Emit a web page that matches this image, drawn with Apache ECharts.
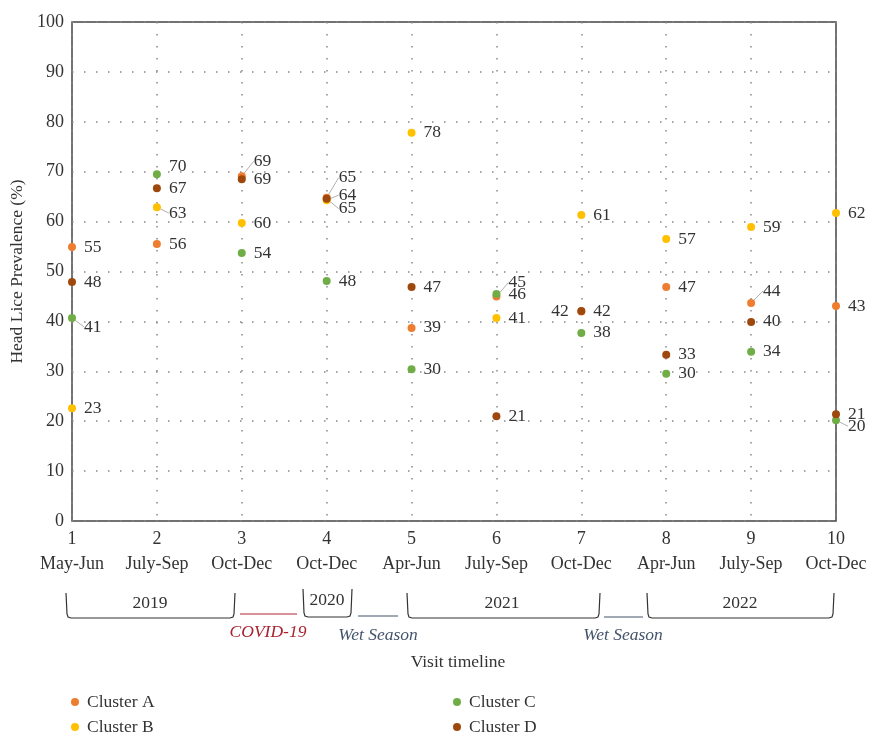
<!DOCTYPE html>
<html><head><meta charset="utf-8">
<script src="https://cdn.jsdelivr.net/npm/echarts@6/dist/echarts.min.js"></script>
<style>html,body{margin:0;padding:0;background:#fff}#c{width:871px;height:734px}</style>
</head><body><div id="c"></div>
<script>
const visits = [1,2,3,4,5,6,7,8,9,10];
const periods = ["May-Jun","July-Sep","Oct-Dec","Oct-Dec","Apr-Jun","July-Sep","Oct-Dec","Apr-Jun","July-Sep","Oct-Dec"];
const clusterA = [54.9, 55.5, 69.1, 64.8, 38.7, 45.0, 42.0, 46.9, 43.7, 43.1];
const clusterB = [22.6, 62.9, 59.7, 64.3, 77.8, 40.7, 61.3, 56.5, 58.9, 61.7];
const clusterC = [40.7, 69.5, 53.7, 48.1, 30.4, 45.5, 37.7, 29.5, 33.9, 20.2];
const clusterD = [47.9, 66.7, 68.5, 64.6, 46.9, 21.0, 42.1, 33.3, 39.9, 21.4];
const yTicks = [0,10,20,30,40,50,60,70,80,90,100];

const names = ["Cluster A","Cluster B","Cluster C","Cluster D"];
const colors = ["#ED7D31","#FFC000","#70AD47","#9E480E"];
const allData = [clusterA, clusterB, clusterC, clusterD];

// label nudges [dx, dy] by series / data index (layout only)
const nudge = {
  0: {2:[0,-15], 3:[0,-20], 5:[0,-14], 6:[-42,0], 8:[0,-12]},
  1: {1:[0,6], 3:[0,-5]},
  2: {0:[0,9], 1:[0,-8], 9:[0,6]},
  3: {3:[0,10]}
};
const leader = {0:[2,3,5,8], 1:[1,3], 2:[0,9], 3:[3]};

const FONT = "Liberation Serif";
const chart = echarts.init(document.getElementById('c'));
const guide = {color: '#b0b0b0', width: 1};

const series = allData.map((arr, si) => ({
  name: names[si],
  type: 'scatter',
  symbolSize: 8,
  itemStyle: {color: colors[si], opacity: 1},
  data: arr.map((v, i) => ({
    value: [visits[i], v],
    labelLine: {show: leader[si].includes(i), lineStyle: guide}
  })),
  label: {
    show: true, position: 'right', distance: 8,
    formatter: p => Math.round(p.value[1]),
    color: '#333', fontFamily: FONT, fontSize: 17.5
  },
  labelLine: {lineStyle: guide},
  labelLayout: p => {
    const n = nudge[si] && nudge[si][p.dataIndex];
    return n ? {dx: n[0], dy: n[1]} : {};
  }
}));

const bracket = (x1, x2, yTop, yBot) => ({
  type: 'polyline',
  shape: {points: [[x1, yTop], [x1 + 1, yBot - 4], [x1 + 2, yBot - 1], [x1 + 5, yBot], [x2 - 5, yBot], [x2 - 2, yBot - 1], [x2 - 1, yBot - 4], [x2, yTop]]},
  style: {stroke: '#333', lineWidth: 1.2, fill: null}
});
const txt = (x, y, t, color, italic) => ({
  type: 'text', x: x, y: y,
  style: {text: t, fill: color || '#333', font: (italic ? 'italic ' : '') + '17.5px "' + FONT + '"', textAlign: 'center', textVerticalAlign: 'middle'}
});
const hline = (x1, x2, y, color) => ({
  type: 'line', shape: {x1: x1, y1: y, x2: x2, y2: y}, style: {stroke: color, lineWidth: 1.2}
});
const leg = (name, left, top) => ({
  data: [name], left: left, top: top, icon: 'circle', itemWidth: 8, itemHeight: 8, itemGap: 6,
  textStyle: {color: '#333', fontFamily: FONT, fontSize: 17.5, padding: [0, 0, 0, 3]}
});

chart.setOption({
  animation: false,
  grid: {left: 72, right: 35, top: 22, bottom: 213, show: true, borderColor: '#444', borderWidth: 1.5},
  xAxis: {
    type: 'value', min: 1, max: 10, interval: 1,
    axisLine: {show: false}, axisTick: {show: false},
    splitLine: {show: true, lineStyle: {color: '#888', type: [1.5, 10.5], width: 1.5}},
    axisLabel: {
      formatter: v => v + '\n' + periods[v - 1],
      color: '#333', fontFamily: FONT, fontSize: 18, lineHeight: 25, margin: 6
    }
  },
  yAxis: {
    type: 'value', min: yTicks[0], max: yTicks[yTicks.length-1], interval: 10,
    name: 'Head Lice Prevalence (%)', nameLocation: 'middle', nameGap: 42,
    nameTextStyle: {color: '#333', fontFamily: FONT, fontSize: 17.5},
    axisLine: {show: false}, axisTick: {show: false},
    splitLine: {show: true, lineStyle: {color: '#888', type: [1.5, 10.5], width: 1.5}},
    axisLabel: {color: '#333', fontFamily: FONT, fontSize: 18, margin: 8}
  },
  legend: [
    leg(names[0], 66, 688), leg(names[1], 66, 713),
    leg(names[2], 448, 688), leg(names[3], 448, 713)
  ],
  graphic: [
    bracket(66, 235, 593, 618), txt(150, 603, '2019'),
    hline(240, 297, 614, '#B22234'), txt(268, 632, 'COVID-19', '#A8232F', true),
    bracket(303, 352, 589, 617), txt(327, 600, '2020'),
    hline(358, 398, 616, '#44546A'), txt(378, 635, 'Wet Season', '#44546A', true),
    bracket(407, 600, 593, 618), txt(502, 603, '2021'),
    hline(604, 643, 617, '#44546A'), txt(623, 635, 'Wet Season', '#44546A', true),
    bracket(647, 834, 593, 618), txt(740, 603, '2022'),
    txt(458, 662, 'Visit timeline')
  ],
  series: series
});
</script></body></html>
